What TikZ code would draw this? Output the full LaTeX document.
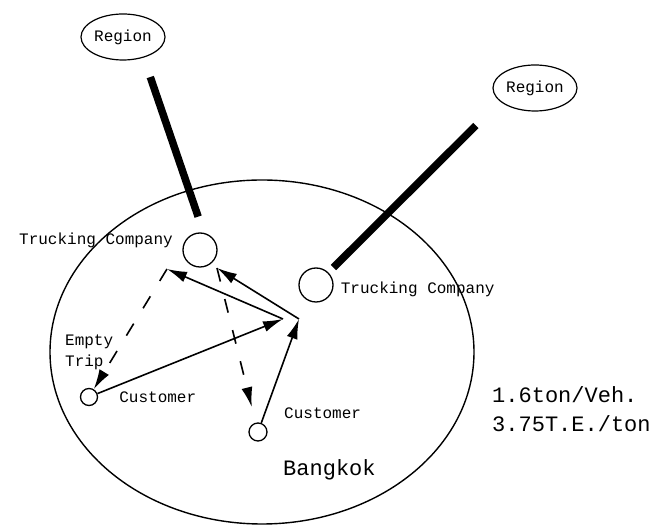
\documentclass[tikz,border=0pt]{standalone}
\usepackage{fontspec}
\usepackage{tikz}
\usetikzlibrary{arrows.meta, positioning, shapes.geometric}
\newfontfamily\maquina{Liberation Mono}
\tikzset{
  region/.style={draw, ellipse, line width=1.2pt, minimum width=84pt, minimum height=46pt, inner sep=0pt, font=\maquina\fontsize{16}{20}\selectfont},
  sitio/.style={draw, circle, line width=1.3pt, inner sep=0pt},
  rotulo/.style={inner sep=0pt, font=\maquina\fontsize{16}{21}\selectfont, align=left},
  grande/.style={inner sep=0pt, font=\maquina\fontsize{22}{28}\selectfont},
  flecha/.style={-{Latex[length=20pt, width=11pt]}, line width=1.6pt},
  vacio/.style={flecha, dash pattern=on 14pt off 18pt},
  troncal/.style={line width=7.5pt},
}
\begin{document}
\begin{tikzpicture}[x=1pt, y=-1pt]
  \useasboundingbox (0,0) rectangle (657,526);
  \node[draw, ellipse, line width=1.4pt, minimum width=424pt, minimum height=344pt] (bkk) at (262,352) {};
  \node[region] (reg1) at (123,37) {Region};
  \node[region] (reg2) at (535,88) {Region};
  \node[sitio, minimum size=34pt] (tc1) at (200,250) {};
  \node[sitio, minimum size=34pt] (tc2) at (316,285) {};
  \node[sitio, minimum size=17pt] (cust1) at (89,397) {};
  \node[sitio, minimum size=18pt] (cust2) at (258,432) {};
  \node[rotulo, anchor=east] (tc1l) at (173,240) {Trucking Company};
  \node[rotulo, right=7pt of tc2, yshift=-4pt] (tc2l) {Trucking Company};
  \node[rotulo, right=21pt of cust1] (cust1l) {Customer};
  \node[rotulo, anchor=west] (cust2l) at (284,413) {Customer};
  \node[rotulo, anchor=west] (vacl) at (65,352) {Empty\\Trip};
  \node[grande, anchor=west] (bkkl) at (283,470) {Bangkok};
  \node[grande, anchor=west] (carga) at (492,395) {1.6ton/Veh.};
  \node[grande, anchor=west] (tasa) at (492,424) {3.75T.E./ton};
  % lineas regionales
  \draw[troncal, shorten <=20.5pt, shorten >=17pt] (reg1.-45) -- (tc1.78);
  \draw[troncal, shorten <=34pt, shorten >=7pt] (reg2.201) -- (tc2.45);
  % recorridos urbanos
  \coordinate (hubA) at (283,319);
  \coordinate (hubB) at (299,319);
  \coordinate (apexA) at (167,269);
  \coordinate (apexB) at (217,268);
  \draw[flecha] (cust1) -- (hubA);
  \draw[flecha] (hubA) -- (apexA);
  \draw[vacio] (apexA) -- (cust1);
  \draw[flecha] (cust2) -- (hubB);
  \draw[flecha] (hubB) -- (apexB);
  \draw[vacio, shorten >=16pt] (apexB) -- (cust2);
\end{tikzpicture}
\end{document}
